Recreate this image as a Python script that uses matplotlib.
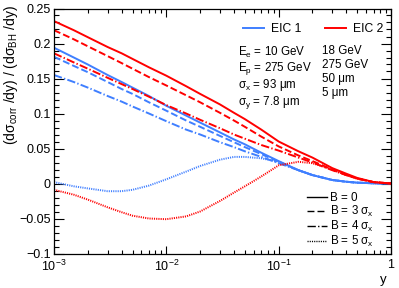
import matplotlib
matplotlib.use("Agg")
import matplotlib.pyplot as plt
from matplotlib.lines import Line2D
from matplotlib.ticker import FixedLocator, FixedFormatter, MultipleLocator, LogLocator, NullFormatter

# ---------------- data ----------------
y_vals = [1e-3, 1.5e-3, 2e-3, 3e-3, 4e-3, 5e-3, 7e-3, 1e-2, 1.5e-2, 2e-2, 3e-2, 4e-2,
          5e-2, 7e-2, 0.1, 0.15, 0.2, 0.3, 0.4, 0.5, 0.7, 1.0]

eic2_b0 = [0.232, 0.219, 0.209, 0.195, 0.186, 0.178, 0.166, 0.154, 0.139, 0.128, 0.113, 0.101,
           0.092, 0.077, 0.060, 0.046, 0.037, 0.022, 0.014, 0.008, 0.002, 0.0]
eic2_b3 = [0.219, 0.206, 0.196, 0.182, 0.172, 0.164, 0.152, 0.140, 0.126, 0.116, 0.101, 0.090,
           0.081, 0.067, 0.053, 0.040, 0.032, 0.020, 0.012, 0.007, 0.002, 0.0]
eic2_b4 = [0.186, 0.173, 0.164, 0.151, 0.142, 0.135, 0.124, 0.112, 0.100, 0.091, 0.079, 0.070,
           0.064, 0.055, 0.047, 0.037, 0.030, 0.019, 0.012, 0.007, 0.002, 0.0]
eic2_b5 = [-0.009, -0.016, -0.023, -0.034, -0.041, -0.046, -0.050, -0.051, -0.047, -0.040, -0.025, -0.013,
           -0.004, 0.010, 0.026, 0.031, 0.029, 0.020, 0.012, 0.007, 0.002, 0.0]

eic1_b0 = [0.194, 0.180, 0.170, 0.155, 0.145, 0.137, 0.125, 0.111, 0.097, 0.087, 0.073, 0.063,
           0.056, 0.044, 0.032, 0.019, 0.012, 0.005, 0.0025, 0.0012, 0.0003, 0.0]
eic1_b3 = [0.181, 0.168, 0.159, 0.145, 0.135, 0.128, 0.116, 0.104, 0.090, 0.081, 0.068, 0.059,
           0.052, 0.042, 0.031, 0.019, 0.012, 0.005, 0.0025, 0.0012, 0.0003, 0.0]
eic1_b4 = [0.155, 0.145, 0.137, 0.125, 0.117, 0.110, 0.100, 0.089, 0.077, 0.070, 0.059, 0.052,
           0.046, 0.038, 0.029, 0.019, 0.012, 0.005, 0.0025, 0.0012, 0.0003, 0.0]
eic1_b5 = [0.002, -0.004, -0.007, -0.011, -0.011, -0.009, -0.003, 0.006, 0.017, 0.025, 0.034, 0.038,
           0.038, 0.036, 0.031, 0.019, 0.012, 0.005, 0.0025, 0.0012, 0.0003, 0.0]

x_ticks = [1e-3, 1e-2, 1e-1, 1.0]
x_tick_labels = [r"$10^{-3}$", r"$10^{-2}$", r"$10^{-1}$", "1"]
y_ticks = [-0.1, -0.05, 0.0, 0.05, 0.1, 0.15, 0.2, 0.25]
y_tick_labels = ["\u22120.1", "\u22120.05", "0", "0.05", "0.1", "0.15", "0.2", "0.25"]

beam_labels = ["EIC 1", "EIC 2"]
b_labels = ["B = 0", r"B = 3 σ$_\mathrm{x}$", r"B = 4 σ$_\mathrm{x}$", r"B = 5 σ$_\mathrm{x}$"]
param_col1 = [r"E$_\mathrm{e}$ = 10 GeV", r"E$_\mathrm{p}$ = 275 GeV",
              r"σ$_\mathrm{x}$ = 93 μm", r"σ$_\mathrm{y}$ = 7.8 μm"]
param_col2 = ["18 GeV", "275 GeV", "50 μm", "5 μm"]

# ---------------- style ----------------
plt.rcParams["font.family"] = ["Liberation Sans", "DejaVu Sans"]
plt.rcParams["mathtext.fontset"] = "custom"
plt.rcParams["mathtext.rm"] = "Liberation Sans"
plt.rcParams["mathtext.it"] = "Liberation Sans:italic"
plt.rcParams["mathtext.bf"] = "Liberation Sans:bold"
plt.rcParams["lines.scale_dashes"] = False

BLUE = "#3f7fff"
RED = "#ff0000"
LW = 1.4
FS = 8.4
styles = {
    0: "-",
    3: (0, (5.0, 2.2)),
    4: (0, (6.0, 1.6, 1.0, 1.6)),
    5: (0, (0.8, 0.8)),
}

fig = plt.figure(figsize=(3.99, 2.88), dpi=100)
ax = fig.add_axes([54 / 399, 1 - 253.5 / 288, 337 / 399, 245 / 288])

for series, b in ((eic1_b0, 0), (eic1_b3, 3), (eic1_b4, 4), (eic1_b5, 5)):
    ax.plot(y_vals, series, color=BLUE, lw=LW, ls=styles[b])
for series, b in ((eic2_b0, 0), (eic2_b3, 3), (eic2_b4, 4), (eic2_b5, 5)):
    ax.plot(y_vals, series, color=RED, lw=LW, ls=styles[b])

ax.set_xscale("log")
ax.set_xlim(1e-3, 1.0)
ax.set_ylim(-0.1, 0.25)

ax.xaxis.set_major_locator(FixedLocator(x_ticks))
ax.xaxis.set_major_formatter(FixedFormatter(x_tick_labels))
ax.xaxis.set_minor_locator(LogLocator(base=10, subs=range(2, 10)))
ax.xaxis.set_minor_formatter(NullFormatter())
ax.yaxis.set_major_locator(FixedLocator(y_ticks))
ax.yaxis.set_major_formatter(FixedFormatter(y_tick_labels))
ax.yaxis.set_minor_locator(MultipleLocator(0.01))

ax.tick_params(which="both", direction="in", top=True, right=True, width=0.8, labelsize=9)
ax.tick_params(axis="x", which="major", length=6, pad=4)
ax.tick_params(axis="x", which="minor", length=3)
ax.tick_params(axis="y", which="major", length=7, pad=2.5)
ax.tick_params(axis="y", which="minor", length=3.5)
for s in ax.spines.values():
    s.set_linewidth(0.9)

ax.set_xlabel("y", fontsize=9.5)
ax.xaxis.set_label_coords((383 - 54) / 337, (253.5 - 280) / 245)
ax.xaxis.label.set_verticalalignment("center")
ax.set_ylabel(r"(dσ$_\mathrm{corr}$ /dy) / (dσ$_\mathrm{BH}$ /dy)", fontsize=10, loc="top")
ax.yaxis.set_label_coords((20 - 54) / 337, 1.015)

# beam legend
beam_handles = [Line2D([], [], color=BLUE, lw=LW), Line2D([], [], color=RED, lw=LW)]
leg1 = ax.legend(beam_handles, beam_labels, loc="center left", ncol=2, frameon=False,
                 bbox_to_anchor=((243 - 54) / 337, (253.5 - 29) / 245), borderaxespad=0,
                 borderpad=0, handlelength=1.7, handletextpad=0.6, columnspacing=2.0,
                 fontsize=FS + 0.3)
ax.add_artist(leg1)

# parameters (one multi-line text block per column)
top_y = (253.5 - 44.5) / 245
ax.text((238 - 54) / 337, top_y, "\n".join(param_col1), transform=ax.transAxes,
        fontsize=FS, va="top", ha="left", linespacing=1.04)
ax.text((322 - 54) / 337, top_y, "\n".join(param_col2), transform=ax.transAxes,
        fontsize=FS, va="top", ha="left", linespacing=1.24)

# B legend
b_handles = [Line2D([], [], color="black", lw=1.0, ls=styles[b]) for b in (0, 3, 4, 5)]
leg2 = ax.legend(b_handles, b_labels, loc="upper left", frameon=False,
                 bbox_to_anchor=((307 - 54) / 337, (253.5 - 192) / 245), borderaxespad=0,
                 borderpad=0, handlelength=1.7, handletextpad=0.3, labelspacing=0.0,
                 fontsize=FS)

fig.savefig("out.png", dpi=100)
